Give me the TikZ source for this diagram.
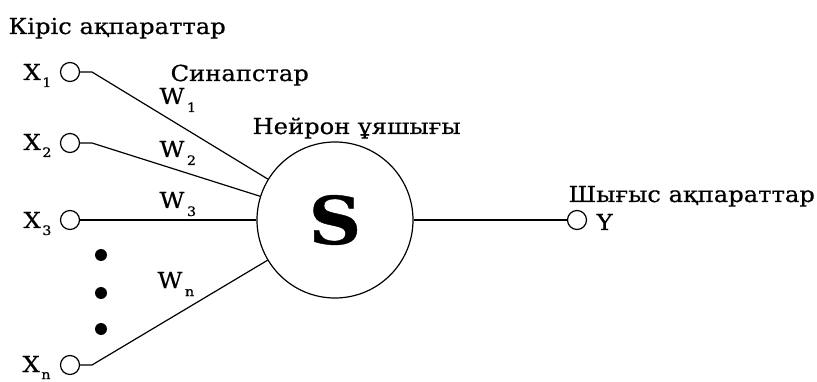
\documentclass[tikz,border=0pt]{standalone}
\usepackage{fontspec}
\setmainfont[FakeStretch=1.1,FakeBold=0.6]{DejaVu Serif}
\newcommand\sbs[1]{\kern1.5pt\raisebox{-7pt}{\fontsize{13}{13}\selectfont #1}}
\newcommand\wsbs[1]{\kern2.5pt\raisebox{-8pt}{\fontsize{13}{13}\selectfont #1}}
\begin{document}
\begin{tikzpicture}[x=1pt,y=-1pt,
  lbl/.style={anchor=base west, inner sep=0, font=\fontsize{22}{22}\selectfont},
  inp/.style={circle, draw, minimum size=19pt, inner sep=0},
  dotn/.style={circle, fill, minimum size=12pt, inner sep=0},
  wire/.style={line width=1.2pt},
  line width=1.2pt]
\useasboundingbox (0,0) rectangle (817,382);
\node[lbl] (tin) at (8,34) {Кіріс ақпараттар};
\node[lbl] (tsyn) at (170,81) {Синапстар};
\node[lbl] (tneu) at (252,134) {Нейрон ұяшығы};
\node[lbl] (tout) at (568,202) {Шығыс ақпараттар};

\node[circle, draw, minimum size=156pt, inner sep=0, font=\bfseries\fontsize{66}{66}\selectfont] (N) at (335,220) {S};

\node[inp] (x1) at (70,72) {};
\node[inp] (x2) at (70,143) {};
\node[inp] (x3) at (70,220) {};
\node[inp] (xn) at (70,365) {};
\node[inp] (y) at (577,220) {};

\node[lbl] (lx1) at (23,80) {X\sbs{1}};
\node[lbl] (lx2) at (23,150) {X\sbs{2}};
\node[lbl] (lx3) at (23,228) {X\sbs{3}};
\node[lbl] (lxn) at (22,372) {X\sbs{n}};
\node[lbl] (ly) at (596,230) {Y};

\node[lbl] (w1) at (159,104) {W\wsbs{1}};
\node[lbl] (w2) at (159,157) {W\wsbs{2}};
\node[lbl] (w3) at (159,208) {W\wsbs{3}};
\node[lbl] (wn) at (157,288) {W\wsbs{n}};

\node[dotn] (d1) at (101,255) {};
\node[dotn] (d2) at (101,293) {};
\node[dotn] (d3) at (101,329) {};

\coordinate (k1) at (92,72);
\coordinate (k2) at (92,143);
\coordinate (kn) at (92,365);
\draw[wire] (x1.east) -- (k1) -- (N);
\draw[wire] (x2.east) -- (k2) -- (N);
\draw[wire] (x3) -- (N);
\draw[wire] (xn.east) -- (kn) -- (N);
\draw[wire] (N) -- (y);
\end{tikzpicture}
\end{document}
